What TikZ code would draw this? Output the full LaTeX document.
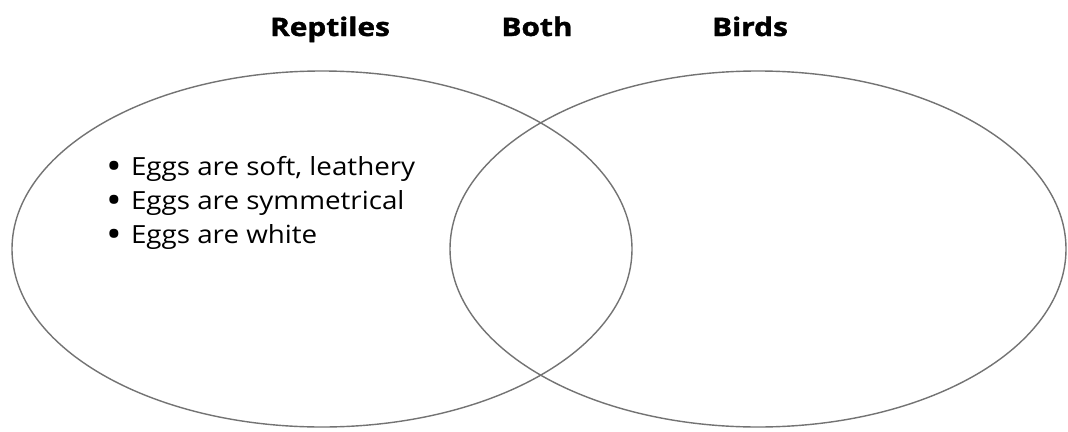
\documentclass[tikz,border=0pt]{standalone}
\usepackage{fontspec}
\setmainfont{Open Sans}
\newfontfamily\heavyfont[BoldFeatures={FakeBold=1.3}]{Open Sans}
\usetikzlibrary{shapes.geometric}
\newcommand{\wide}[2]{\scalebox{#1}[1]{#2}}
\newcommand{\bigbullet}{\raisebox{-4pt}{\scalebox{1.5}{\textbullet}}}
\begin{document}
\begin{tikzpicture}[x=1pt,y=-1pt,
  ring/.style={draw=black!55,line width=1.4pt},
  title/.style={font=\heavyfont\bfseries\fontsize{25.5}{30}\selectfont,anchor=base,inner sep=0pt},
  item/.style={font=\fontsize{25}{28}\selectfont,anchor=base west,inner sep=0pt}]
\useasboundingbox (0,0) rectangle (1068,431);
\fill[white] (0,0) rectangle (1068,431);
\node[ring,ellipse,minimum width=620pt,minimum height=356pt,inner sep=0pt] (reptiles) at (322,249) {};
\node[ring,ellipse,minimum width=616pt,minimum height=356pt,inner sep=0pt] (birds) at (758,249) {};
\node[title] (treptiles) at (330,36) {\wide{1.17}{Reptiles}};
\node[title] (tboth) at (537,36) {\wide{1.17}{Both}};
\node[title] (tbirds) at (750,36) {\wide{1.17}{Birds}};
\node[item] (i1) at (106,175) {\wide{1.11}{\bigbullet\hspace{0.33em}Eggs are soft, leathery}};
\node[item] (i2) at (106,209) {\wide{1.11}{\bigbullet\hspace{0.33em}Eggs are symmetrical}};
\node[item] (i3) at (106,243) {\wide{1.11}{\bigbullet\hspace{0.33em}Eggs are white}};
\end{tikzpicture}
\end{document}
